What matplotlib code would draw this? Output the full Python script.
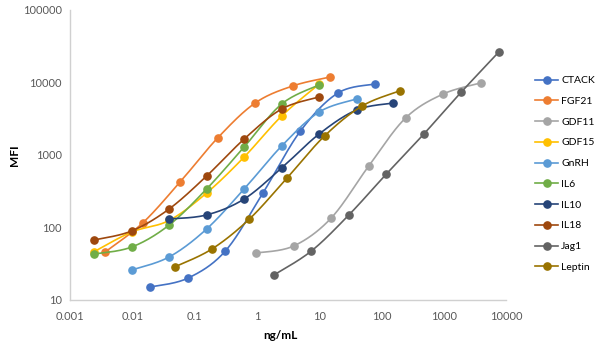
import numpy as np
import matplotlib
matplotlib.use("Agg")
import matplotlib.pyplot as plt

# Concentrations (ng/mL) and median fluorescence intensities per analyte
analytes = ["CTACK", "FGF21", "GDF11", "GDF15", "GnRH", "IL6", "IL10", "IL18", "Jag1", "Leptin"]
colors = ["#4472C4", "#ED7D31", "#A5A5A5", "#FFC000", "#5B9BD5",
          "#70AD47", "#264478", "#9E480E", "#636363", "#997300"]

ctack_x = [0.0195, 0.078, 0.3125, 1.25, 5, 20, 80]
ctack_y = [15.1, 20, 47.5, 299, 2140, 7160, 9530]

fgf21_x = [0.00366, 0.0146, 0.0586, 0.234, 0.9375, 3.75, 15]
fgf21_y = [45.9, 115, 425, 1715, 5210, 8950, 11900]

gdf11_x = [0.977, 3.9, 15.6, 62.5, 244, 977, 3906]
gdf11_y = [44.5, 55.6, 135, 705, 3240, 6930, 9840]

gdf15_x = [0.00244, 0.0098, 0.039, 0.156, 0.625, 2.5, 10]
gdf15_y = [46.4, 86.7, 125, 299, 937, 3450, 9500]

gnrh_x = [0.00977, 0.039, 0.156, 0.625, 2.5, 10, 40]
gnrh_y = [25.9, 39.2, 95.3, 340, 1330, 3920, 5920]

il6_x = [0.00244, 0.0098, 0.039, 0.156, 0.625, 2.5, 10]
il6_y = [43, 53.8, 108, 340, 1290, 5050, 9250]

il10_x = [0.039, 0.156, 0.625, 2.5, 10, 40, 156]
il10_y = [131, 149, 247, 662, 1950, 4180, 5210]

il18_x = [0.00244, 0.0098, 0.039, 0.156, 0.625, 2.5, 10]
il18_y = [67.2, 89.6, 180, 513, 1660, 4310, 6310]

jag1_x = [1.875, 7.5, 30, 120, 480, 1920, 7680]
jag1_y = [22.1, 47.4, 149, 547, 1950, 7400, 26400]

leptin_x = [0.0476, 0.19, 0.76, 3.05, 12.2, 48.8, 195]
leptin_y = [28.5, 50.5, 131, 482, 1830, 4740, 7640]

series_x = [ctack_x, fgf21_x, gdf11_x, gdf15_x, gnrh_x, il6_x, il10_x, il18_x, jag1_x, leptin_x]
series_y = [ctack_y, fgf21_y, gdf11_y, gdf15_y, gnrh_y, il6_y, il10_y, il18_y, jag1_y, leptin_y]


def smooth_curve(x, y, steps=30):
    """Catmull-Rom style smoothing of a polyline in log-log space."""
    p = np.column_stack([np.log10(x), np.log10(y)])
    n = len(p)
    out = [p[0]]
    for i in range(n - 1):
        p0 = p[i - 1] if i > 0 else p[i]
        p1 = p[i]
        p2 = p[i + 1]
        p3 = p[i + 2] if i + 2 < n else p[i + 1]
        c1 = p1 + (p2 - p0) / 6.0
        c2 = p2 - (p3 - p1) / 6.0
        t = np.linspace(0, 1, steps)[1:, None]
        seg = ((1 - t) ** 3) * p1 + 3 * ((1 - t) ** 2) * t * c1 \
            + 3 * (1 - t) * t ** 2 * c2 + t ** 3 * p2
        out.extend(seg)
    out = np.array(out)
    return 10 ** out[:, 0], 10 ** out[:, 1]


plt.rcParams["font.family"] = ["Lato", "DejaVu Sans"]

fig = plt.figure(figsize=(6, 3.5), dpi=100)
ax = fig.add_axes([0.1167, 0.1429, 0.7267, 0.8286])

for name, c, xs, ys in zip(analytes, colors, series_x, series_y):
    sx, sy = smooth_curve(xs, ys)
    ax.plot(sx, sy, color=c, lw=1.2, solid_capstyle="round")
    ax.plot(xs, ys, linestyle="none", marker="o", ms=5.2, color=c)
    ax.plot([], [], color=c, lw=1.2, marker="o", ms=5.2, label=name)

ax.set_xscale("log")
ax.set_yscale("log")
ax.set_xlim(0.001, 10000)
ax.set_ylim(10, 100000)

xt = [0.001, 0.01, 0.1, 1, 10, 100, 1000, 10000]
yt = [10, 100, 1000, 10000, 100000]
ax.set_xticks(xt)
ax.set_xticklabels(["0.001", "0.01", "0.1", "1", "10", "100", "1000", "10000"])
ax.set_yticks(yt)
ax.set_yticklabels(["10", "100", "1000", "10000", "100000"])
ax.minorticks_off()
ax.tick_params(axis="both", length=0, labelsize=8, labelcolor="#595959")
ax.tick_params(axis="y", pad=6)
ax.tick_params(axis="x", pad=8)

for s in ["top", "right"]:
    ax.spines[s].set_visible(False)
for s in ["left", "bottom"]:
    ax.spines[s].set_color("#D0D0D0")
    ax.spines[s].set_linewidth(1.0)

ax.set_xlabel("ng/mL", fontsize=8.5, fontweight="bold", color="black")
ax.set_ylabel("MFI", fontsize=8.5, fontweight="bold", color="black")
ax.xaxis.set_label_coords(0.482, -0.103)
ax.yaxis.set_label_coords(-0.115, 0.5)

handles, labels = ax.get_legend_handles_labels()
fig.legend(handles, labels, loc="upper left", bbox_to_anchor=(0.885, 0.795),
           frameon=False, fontsize=7.5, handlelength=2.2, handletextpad=0.3,
           labelspacing=1.1, borderaxespad=0)

fig.savefig("out.png", dpi=100)
